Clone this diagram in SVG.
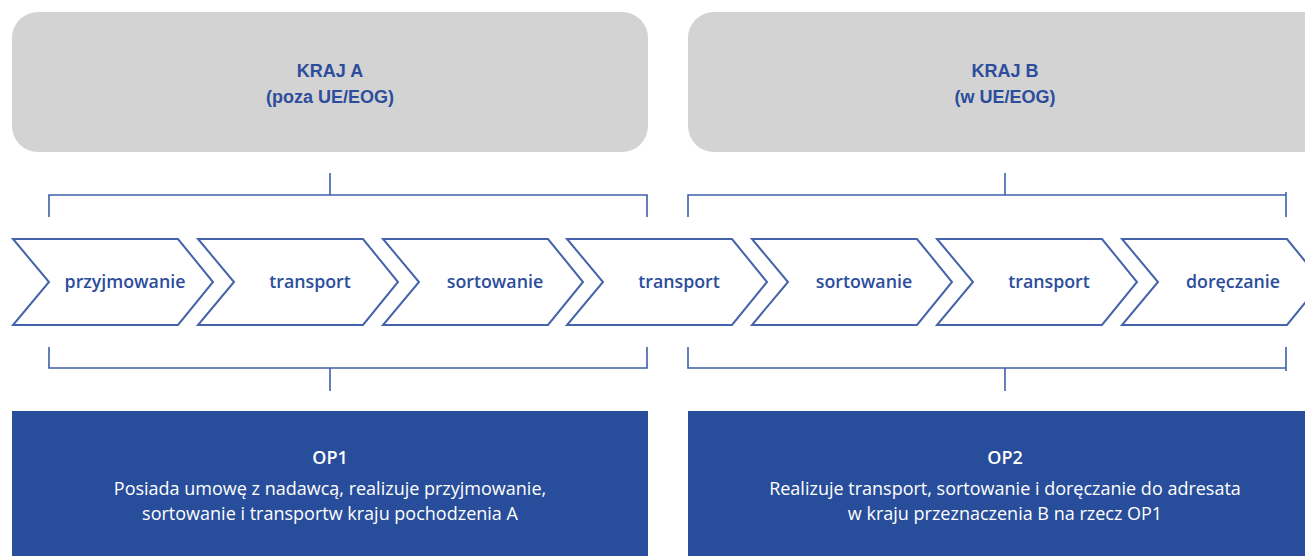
<svg xmlns="http://www.w3.org/2000/svg" width="1305" height="556" viewBox="0 0 1305 556">
<style>
.country{fill:#d3d3d3}
.hdr{font-family:"Liberation Sans",Arial,sans-serif;font-weight:bold;font-size:18px;fill:#2c4d9c;text-anchor:middle}
.chev{fill:#fff;stroke:#4563aa;stroke-width:2;stroke-linejoin:miter}
.lbl{font-family:"Open Sans",sans-serif;font-weight:600;font-size:17.8px;fill:#2c4d9c;text-anchor:middle}
.br{fill:none;stroke:#3f5fa8;stroke-width:1.6}
.op{fill:#284d9a}
.opt{font-family:"Open Sans",sans-serif;font-size:18px;fill:#fff;text-anchor:middle}
.opn{font-weight:600}
</style>
<rect width="1305" height="556" fill="#fff"/>
<g id="krajA"><rect class="country" x="12" y="12" width="636" height="140" rx="26"/>
<text class="hdr" x="330" y="77">KRAJ A</text><text class="hdr" x="330" y="103">(poza UE/EOG)</text></g>
<g id="krajB"><rect class="country" x="688" y="12" width="650" height="140" rx="26"/>
<text class="hdr" x="1005" y="77">KRAJ B</text><text class="hdr" x="1005" y="103">(w UE/EOG)</text></g>
<g id="c1"><polygon class="chev" points="13,239 178,239 213,282 178,325 13,325 49,282"/><text class="lbl" x="125" y="288">przyjmowanie</text></g>
<g id="c2"><polygon class="chev" points="198,239 363,239 398,282 363,325 198,325 234,282"/><text class="lbl" x="310" y="288">transport</text></g>
<g id="c3"><polygon class="chev" points="383,239 548,239 583,282 548,325 383,325 419,282"/><text class="lbl" x="495" y="288">sortowanie</text></g>
<g id="c4"><polygon class="chev" points="567,239 732,239 767,282 732,325 567,325 603,282"/><text class="lbl" x="679" y="288">transport</text></g>
<g id="c5"><polygon class="chev" points="752,239 917,239 952,282 917,325 752,325 788,282"/><text class="lbl" x="864" y="288">sortowanie</text></g>
<g id="c6"><polygon class="chev" points="937,239 1102,239 1137,282 1102,325 937,325 973,282"/><text class="lbl" x="1049" y="288">transport</text></g>
<g id="c7"><polygon class="chev" points="1122,239 1287,239 1322,282 1287,325 1122,325 1158,282"/><text class="lbl" x="1233" y="288">doręczanie</text></g>
<g id="connectors">
<path class="br" d="M49,217 V195 H647 V217 M330,173 V195"/>
<path class="br" d="M688,217 V195 H1286 V217 M1286,192 V195 M1005,173 V195"/>
<path class="br" d="M49,347 V368 H647 V347 M330,368 V391"/>
<path class="br" d="M688,347 V368 H1286 V347 M1286,368 V371 M1005,368 V391"/>
</g>
<g id="op1"><rect class="op" x="12" y="411" width="636" height="150"/>
<text class="opt opn" x="330" y="464">OP1</text>
<text class="opt" x="330" y="495">Posiada umowę z nadawcą, realizuje przyjmowanie,</text>
<text class="opt" x="330" y="520">sortowanie i transportw kraju pochodzenia A</text></g>
<g id="op2"><rect class="op" x="688" y="411" width="630" height="150"/>
<text class="opt opn" x="1005" y="464">OP2</text>
<text class="opt" x="1005" y="495">Realizuje transport, sortowanie i doręczanie do adresata</text>
<text class="opt" x="1005" y="520">w kraju przeznaczenia B na rzecz OP1</text></g>
</svg>
